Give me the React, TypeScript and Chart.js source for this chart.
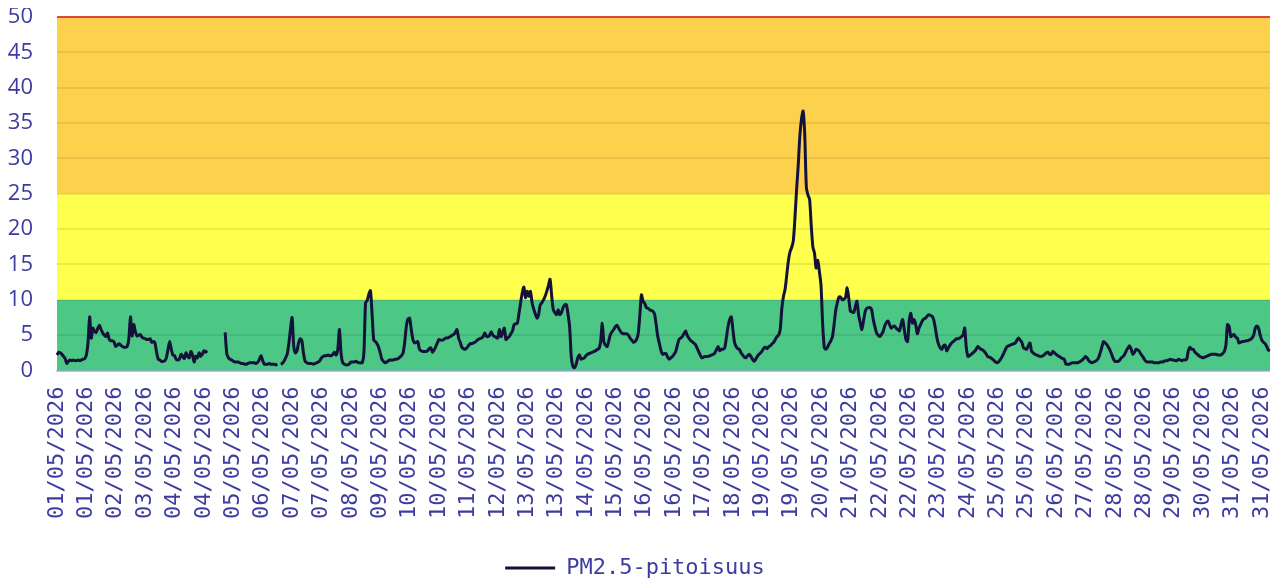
import React, { useEffect, useRef } from 'react';
import { Chart, registerables } from 'chart.js';

Chart.register(...registerables);

const dayLabels = [
  '01/05/2026', '02/05/2026', '03/05/2026', '04/05/2026', '05/05/2026', '06/05/2026', '07/05/2026', '08/05/2026',
  '09/05/2026', '10/05/2026', '11/05/2026', '12/05/2026', '13/05/2026', '14/05/2026', '15/05/2026', '16/05/2026',
  '17/05/2026', '18/05/2026', '19/05/2026', '20/05/2026', '21/05/2026', '22/05/2026', '23/05/2026', '24/05/2026',
  '25/05/2026', '26/05/2026', '27/05/2026', '28/05/2026', '29/05/2026', '30/05/2026', '31/05/2026',
];

// hourly PM2.5 values, one array per day (00:00 .. 23:00)
const day01 = [2.2, 2.6, 2.5, 2.3, 2.0, 1.7, 1.0, 1.3, 1.5, 1.4, 1.5, 1.4, 1.4, 1.5, 1.4, 1.5, 1.6, 1.7, 2.2, 4.0, 7.6, 4.6, 6.0, 5.5];
const day02 = [5.4, 6.0, 6.4, 5.8, 5.3, 5.0, 4.8, 5.3, 4.4, 4.2, 4.2, 4.0, 3.4, 3.6, 3.8, 3.6, 3.4, 3.3, 3.3, 3.4, 4.5, 7.6, 4.9, 6.5];
const day03 = [5.5, 4.9, 5.0, 5.1, 4.7, 4.6, 4.5, 4.4, 4.4, 4.5, 4.0, 4.1, 3.9, 2.6, 1.6, 1.5, 1.3, 1.3, 1.4, 1.8, 3.0, 4.1, 3.0, 2.2];
const day04 = [2.1, 1.6, 1.5, 1.6, 2.3, 2.0, 1.7, 2.5, 2.0, 1.8, 2.7, 2.2, 1.2, 2.0, 1.8, 2.5, 2.0, 2.3, 2.8, 2.6, 2.8, null, null, null];
const day05 = [null, null, null, null, null, null, null, 5.4, 2.4, 1.8, 1.6, 1.5, 1.3, 1.2, 1.2, 1.2, 1.1, 1.0, 1.0, 0.9, 0.9, 1.0, 1.1, 1.1];
const day06 = [1.1, 1.1, 1.0, 1.2, 1.6, 2.1, 1.4, 0.9, 0.9, 0.9, 1.0, 0.9, 0.9, 0.9, 0.8, 0.9, null, 0.9, 1.0, 1.3, 1.8, 2.3, 3.8, 5.8];
const day07 = [7.5, 3.5, 2.5, 2.8, 3.9, 4.5, 4.2, 2.4, 1.3, 1.1, 1.0, 1.0, 1.0, 0.9, 1.0, 1.1, 1.2, 1.4, 1.8, 2.0, 2.1, 2.1, 2.2, 2.1];
const day08 = [2.1, 2.3, 2.6, 2.2, 3.0, 5.8, 2.4, 1.1, 0.9, 0.8, 0.8, 0.9, 1.2, 1.2, 1.2, 1.3, 1.2, 1.1, 1.1, 1.1, 2.5, 9.6, 9.9, 10.8];
const day09 = [11.3, 8.0, 4.3, 4.1, 3.8, 3.3, 2.5, 1.6, 1.3, 1.1, 1.2, 1.4, 1.5, 1.5, 1.5, 1.6, 1.6, 1.7, 1.9, 2.1, 2.5, 4.0, 6.3, 7.3];
const day10 = [7.4, 5.8, 4.4, 3.9, 4.0, 4.1, 3.0, 2.8, 2.7, 2.7, 2.7, 2.8, 3.1, 3.2, 2.6, 2.9, 3.4, 3.9, 4.4, 4.3, 4.3, 4.4, 4.6, 4.6];
const day11 = [4.7, 4.8, 5.0, 5.1, 5.4, 5.8, 4.6, 4.0, 3.3, 3.1, 3.0, 3.2, 3.5, 3.8, 3.8, 3.9, 4.0, 4.2, 4.4, 4.5, 4.6, 4.8, 5.3, 4.9];
const day12 = [4.8, 5.0, 5.5, 5.0, 4.8, 4.7, 4.6, 5.8, 4.8, 5.4, 6.0, 4.4, 4.6, 4.8, 5.2, 5.6, 6.5, 6.6, 6.7, 8.1, 9.6, 11.0, 11.8, 10.3];
const day13 = [11.2, 10.5, 11.2, 9.6, 8.7, 8.0, 7.4, 7.9, 9.3, 9.6, 10.0, 10.5, 11.2, 12.0, 12.9, 10.6, 8.6, 8.2, 7.9, 8.6, 7.9, 8.2, 8.9, 9.3];
const day14 = [9.3, 8.0, 6.2, 2.0, 0.6, 0.4, 0.9, 1.8, 2.2, 1.6, 1.7, 1.8, 2.1, 2.3, 2.4, 2.5, 2.6, 2.7, 2.8, 3.0, 3.1, 4.1, 6.7, 4.0];
const day15 = [3.6, 3.4, 4.2, 5.1, 5.5, 5.8, 6.2, 6.4, 6.0, 5.6, 5.3, 5.2, 5.2, 5.2, 5.0, 4.6, 4.3, 4.0, 4.1, 4.4, 5.2, 7.8, 10.7, 9.8];
const day16 = [9.5, 8.9, 8.8, 8.6, 8.5, 8.4, 8.0, 6.5, 4.8, 3.8, 2.8, 2.3, 2.4, 2.4, 1.9, 1.6, 1.8, 2.0, 2.3, 2.7, 3.6, 4.4, 4.6, 4.8];
const day17 = [5.2, 5.6, 5.0, 4.6, 4.3, 4.1, 3.9, 3.7, 3.2, 2.7, 2.2, 1.8, 1.9, 2.0, 2.0, 2.0, 2.1, 2.2, 2.3, 2.5, 3.0, 3.4, 2.8, 3.0];
const day18 = [3.0, 3.2, 4.6, 6.2, 7.2, 7.6, 5.8, 4.0, 3.4, 3.1, 3.0, 2.5, 2.2, 1.9, 1.8, 2.1, 2.3, 2.0, 1.6, 1.3, 1.6, 2.0, 2.3, 2.5];
const day19 = [2.8, 3.2, 3.3, 3.1, 3.4, 3.5, 3.8, 4.0, 4.4, 4.8, 5.0, 5.8, 8.8, 10.5, 11.5, 13.5, 15.5, 16.8, 17.4, 18.3, 21.5, 25.5, 28.9, 33.1];
const day20 = [35.5, 36.7, 33.5, 26.0, 24.8, 24.2, 20.5, 17.5, 16.6, 14.5, 15.6, 14.0, 12.0, 6.5, 3.3, 3.0, 3.3, 3.8, 4.2, 4.8, 6.5, 8.5, 9.6, 10.4];
const day21 = [10.4, 10.0, 10.1, 10.3, 11.7, 10.2, 8.4, 8.3, 8.2, 9.0, 9.8, 7.9, 6.8, 5.8, 7.0, 8.3, 8.8, 8.9, 8.9, 8.6, 7.2, 6.2, 5.3, 5.0];
const day22 = [4.8, 5.1, 5.5, 6.3, 6.8, 7.0, 6.5, 6.0, 6.2, 6.3, 6.0, 5.8, 5.6, 6.5, 7.2, 5.8, 4.4, 4.1, 7.0, 8.1, 6.7, 7.2, 6.5, 5.2];
const day23 = [6.0, 6.5, 7.0, 7.3, 7.4, 7.7, 7.9, 7.8, 7.7, 7.2, 6.0, 4.6, 3.7, 3.2, 3.0, 3.5, 3.6, 2.8, 3.2, 3.6, 3.9, 4.1, 4.3, 4.5];
const day24 = [4.5, 4.6, 4.8, 5.0, 6.0, 3.2, 2.0, 2.1, 2.3, 2.5, 2.7, 3.0, 3.4, 3.2, 3.0, 2.9, 2.7, 2.4, 2.0, 1.9, 1.8, 1.6, 1.4, 1.2];
const day25 = [1.1, 1.3, 1.6, 2.0, 2.5, 3.0, 3.4, 3.5, 3.6, 3.7, 3.8, 3.9, 4.3, 4.6, 4.3, 4.0, 3.2, 3.1, 3.0, 3.5, 3.9, 2.7, 2.5, 2.3];
const day26 = [2.2, 2.1, 2.0, 2.0, 2.1, 2.3, 2.5, 2.6, 2.3, 2.3, 2.7, 2.5, 2.3, 2.1, 2.0, 1.8, 1.7, 1.6, 0.9, 0.9, 0.9, 1.0, 1.1, 1.1];
const day27 = [1.1, 1.1, 1.2, 1.3, 1.5, 1.7, 2.0, 1.8, 1.4, 1.2, 1.1, 1.2, 1.3, 1.5, 1.8, 2.5, 3.3, 4.1, 3.9, 3.7, 3.3, 2.9, 2.3, 1.7];
const day28 = [1.3, 1.3, 1.3, 1.5, 1.8, 2.0, 2.3, 2.8, 3.2, 3.5, 3.0, 2.3, 2.6, 3.0, 2.9, 2.7, 2.3, 2.0, 1.6, 1.3, 1.2, 1.2, 1.2, 1.2];
const day29 = [1.1, 1.1, 1.1, 1.1, 1.2, 1.2, 1.3, 1.4, 1.4, 1.5, 1.6, 1.5, 1.5, 1.4, 1.4, 1.6, 1.5, 1.4, 1.5, 1.5, 1.6, 2.8, 3.3, 3.0];
const day30 = [3.0, 2.6, 2.4, 2.2, 2.0, 1.9, 1.8, 1.9, 2.0, 2.1, 2.2, 2.3, 2.3, 2.3, 2.3, 2.2, 2.2, 2.2, 2.4, 2.7, 3.6, 6.5, 6.2, 4.8];
const day31 = [5.0, 5.1, 4.7, 4.6, 3.9, 4.0, 4.1, 4.1, 4.2, 4.2, 4.3, 4.4, 4.6, 5.0, 6.0, 6.3, 6.0, 5.0, 4.3, 4.0, 3.8, 3.4, 2.9, 2.8];

const pm25 = [
  ...day01, ...day02, ...day03, ...day04, ...day05, ...day06, ...day07, ...day08, ...day09, ...day10,
  ...day11, ...day12, ...day13, ...day14, ...day15, ...day16, ...day17, ...day18, ...day19, ...day20,
  ...day21, ...day22, ...day23, ...day24, ...day25, ...day26, ...day27, ...day28, ...day29, ...day30, ...day31,
];

const hoursPerDay = 24;
const labelEvery = 18;
const labels = dayLabels.flatMap((d) => Array(hoursPerDay).fill(d));

const seriesName = 'PM2.5-pitoisuus';
const bandLimits = [0, 10, 25, 50];
const bandColors = ['#4cc786', '#ffff4d', '#fed14d'];

const textColor = '#3d3b9f';
const lineColor = '#14113a';
const monoFont = "'DejaVu Sans Mono', monospace";
const sansFont = "'Open Sans', sans-serif";

const bandsPlugin = {
  id: 'bands',
  beforeDraw(chart: any) {
    const { ctx, chartArea, scales } = chart;
    const y = scales.y;
    ctx.save();
    for (let i = 0; i < bandColors.length; i++) {
      const top = y.getPixelForValue(bandLimits[i + 1]);
      const bottom = y.getPixelForValue(bandLimits[i]);
      ctx.fillStyle = bandColors[i];
      ctx.fillRect(chartArea.left, top, chartArea.right - chartArea.left, bottom - top);
    }
    ctx.restore();
  },
};

export default function App() {
  const canvasRef = useRef<HTMLCanvasElement | null>(null);

  useEffect(() => {
    if (!canvasRef.current) return;
    const chart = new Chart(canvasRef.current, {
      type: 'line',
      data: {
        labels,
        datasets: [
          {
            label: seriesName,
            data: pm25,
            borderColor: lineColor,
            backgroundColor: lineColor,
            borderWidth: 3,
            pointRadius: 0,
            pointHoverRadius: 0,
            tension: 0.25,
            spanGaps: false,
            fill: false,
          },
        ],
      },
      options: {
        animation: false,
        responsive: true,
        maintainAspectRatio: false,
        layout: { padding: { bottom: -11 } },
        scales: {
          x: {
            grid: { display: true, drawOnChartArea: false, drawTicks: true, tickLength: 16, tickColor: 'rgba(0,0,0,0)' },
            border: { display: true, color: 'rgba(110,110,220,0.35)', width: 2 },
            ticks: {
              autoSkip: false,
              minRotation: 90,
              maxRotation: 90,
              padding: 0,
              color: textColor,
              font: { family: monoFont, size: 22, lineHeight: 0.41 },
              callback: (_v: any, i: number) => (i % labelEvery === 0 ? labels[i] : ''),
            },
          },
          y: {
            min: 0,
            max: 50,
            afterFit: (axis: any) => {
              axis.width = 66;
            },
            grid: {
              color: (c: any) => (c.tick && c.tick.value === 50 ? 'rgba(225,50,50,0.9)' : 'rgba(0,0,0,0.08)'),
              tickLength: 24,
              tickColor: 'rgba(0,0,0,0)',
              lineWidth: 2,
            },
            border: { display: false },
            ticks: {
              stepSize: 5,
              padding: 0,
              color: textColor,
              font: { family: sansFont, size: 22, lineHeight: 0.82 },
            },
          },
        },
        plugins: {
          legend: {
            position: 'bottom',
            labels: {
              color: textColor,
              font: { family: monoFont, size: 22 },
              boxWidth: 50,
              boxHeight: 0,
              padding: 38,
            },
          },
          tooltip: { enabled: false },
        },
      },
      plugins: [bandsPlugin],
    } as any);
    return () => chart.destroy();
  }, []);

  return (
    <div style={{ marginLeft: -17, width: 'calc(100% + 17px)', height: 570, position: 'relative' }}>
      <canvas ref={canvasRef} />
    </div>
  );
}
